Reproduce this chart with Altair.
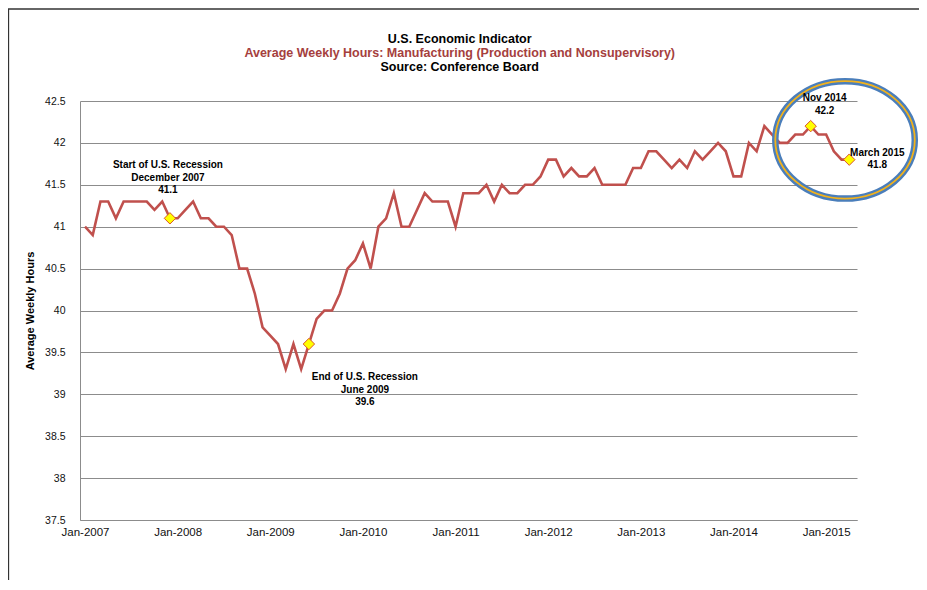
import altair as alt
import pandas as pd

# Monthly average weekly hours, Jan-2007 onward
hours = [
    41.0, 40.9, 41.3, 41.3, 41.1, 41.3, 41.3, 41.3, 41.3, 41.2, 41.3, 41.1,   # 2007
    41.1, 41.2, 41.3, 41.1, 41.1, 41.0, 41.0, 40.9, 40.5, 40.5, 40.2, 39.8,   # 2008
    39.7, 39.6, 39.3, 39.6, 39.3, 39.6, 39.9, 40.0, 40.0, 40.2, 40.5, 40.6,   # 2009
    40.8, 40.5, 41.0, 41.1, 41.4, 41.0, 41.0, 41.2, 41.4, 41.3, 41.3, 41.3,   # 2010
    41.0, 41.4, 41.4, 41.4, 41.5, 41.3, 41.5, 41.4, 41.4, 41.5, 41.5, 41.6,   # 2011
    41.8, 41.8, 41.6, 41.7, 41.6, 41.6, 41.7, 41.5, 41.5, 41.5, 41.5, 41.7,   # 2012
    41.7, 41.9, 41.9, 41.8, 41.7, 41.8, 41.7, 41.9, 41.8, 41.9, 42.0, 41.9,   # 2013
    41.6, 41.6, 42.0, 41.9, 42.2, 42.1, 42.0, 42.0, 42.1, 42.1, 42.2, 42.1,   # 2014
    42.1, 41.9, 41.8, 41.8,                                                   # 2015
]
month_index = list(range(len(hours)))

x_tick_values = [0, 12, 24, 36, 48, 60, 72, 84, 96]
y_tick_values = [37.5, 38, 38.5, 39, 39.5, 40, 40.5, 41, 41.5, 42, 42.5]

title_lines = [
    "U.S. Economic Indicator",
    "Average Weekly Hours: Manufacturing (Production and Nonsupervisory)",
    "Source: Conference Board",
]
title_colors = ["#000000", "#A5403D", "#000000"]

marker_idx = [11, 29, 94, 99]
marker_val = [41.1, 39.6, 42.2, 41.8]
marker_text = [
    ["Start of U.S. Recession", "December 2007", "41.1"],
    ["End of U.S. Recession", "June 2009", "39.6"],
    ["Nov 2014", "42.2"],
    ["March 2015", "41.8"],
]
marker_dx = [-2, 56, 14, 28]
marker_dy = [-58, 28, -33, -12]

ellipse_center = {"i": [98.45], "v": [42.036]}

FONT = "Liberation Sans"
GRID = "#8C8C8C"

df = pd.DataFrame({"i": month_index, "v": hours})
df_m = pd.DataFrame({"i": marker_idx, "v": marker_val})

x_enc = alt.X(
    "i:Q",
    scale=alt.Scale(domain=[-0.65, 100], nice=False, zero=False),
    axis=alt.Axis(
        values=x_tick_values,
        labelExpr="'Jan-' + (2007 + datum.value / 12)",
        grid=False, ticks=False, tickSize=0,
        domainColor=GRID, domainWidth=1,
        labelPadding=6, labelFontSize=11.5, labelFont=FONT, labelColor="#111",
        labelFlush=False, labelOverlap=False, title=None,
    ),
)
y_enc = alt.Y(
    "v:Q",
    scale=alt.Scale(domain=[37.5, 42.5], nice=False, zero=False),
    axis=alt.Axis(
        values=y_tick_values, format="~g",
        grid=True, gridColor=GRID, gridWidth=1,
        ticks=False, tickSize=0,
        domainColor=GRID, domainWidth=1,
        labelPadding=15, labelFontSize=10.5, labelFont=FONT, labelColor="#111",
        labelFlush=False, labelOverlap=False,
        title="Average Weekly Hours", titleFont=FONT, titleFontSize=11,
        titleFontWeight="bold", titleColor="#000",
        titleX=-50, titleY=209.5, titleAngle=270,
        titleBaseline="middle", titleAlign="center",
    ),
)

line = alt.Chart(df).mark_line(color="#C0504D", strokeWidth=2.6).encode(x=x_enc, y=y_enc)

ell_path = "M-1,0A1,0.842,0,1,0,1,0A1,0.842,0,1,0,-1,0Z"
ell_size = 19460
df_e = pd.DataFrame(ellipse_center)
ell_blue = alt.Chart(df_e).mark_point(
    shape=ell_path, filled=False, stroke="#4A7EBB", strokeWidth=6.5, size=ell_size, opacity=1
).encode(x=x_enc, y=y_enc)
ell_gold = alt.Chart(df_e).mark_point(
    shape=ell_path, filled=False, stroke="#F2B21B", strokeWidth=1.8, size=ell_size, opacity=1
).encode(x=x_enc, y=y_enc)

markers = alt.Chart(df_m).mark_point(
    shape="diamond", filled=True, fill="#FFFF00", stroke="#D9542B",
    strokeWidth=1, size=130, opacity=1
).encode(x=x_enc, y=y_enc)

ann_layers = []
for k in range(len(marker_idx)):
    d = pd.DataFrame({"i": [marker_idx[k]], "v": [marker_val[k]]})
    ann_layers.append(
        alt.Chart(d).mark_text(
            align="center", baseline="top", dx=marker_dx[k], dy=marker_dy[k],
            font=FONT, fontSize=10, fontWeight="bold", color="#000", lineHeight=12.5,
        ).encode(x=x_enc, y=y_enc, text=alt.value(marker_text[k]))
    )

one = pd.DataFrame({"a": [0]})
title_layers = []
for k, (t, c) in enumerate(zip(title_lines, title_colors)):
    title_layers.append(
        alt.Chart(one).mark_text(
            align="center", baseline="top", font=FONT, fontSize=12.5,
            fontWeight="bold", color=c,
        ).encode(x=alt.value(379.7), y=alt.value(-68.5 + 14.2 * k), text=alt.value(t))
    )

frame_left = alt.Chart(one).mark_rule(color="#333333", strokeWidth=1.3).encode(
    x=alt.value(-71.5), y=alt.value(-92), y2=alt.value(479)
)
frame_top = alt.Chart(one).mark_rule(color="#333333", strokeWidth=1.3).encode(
    x=alt.value(-72), x2=alt.value(839), y=alt.value(-92)
)

chart = alt.layer(
    line, ell_blue, ell_gold, markers, *ann_layers, *title_layers, frame_left, frame_top
).properties(
    width=777, height=419,
    autosize=alt.AutoSizeParams(type="none"),
    padding={"left": 72, "top": 93, "right": 62, "bottom": 60},
).configure_view(stroke=None)

chart.save("out.html", embed_options={"renderer": "svg", "actions": False})
